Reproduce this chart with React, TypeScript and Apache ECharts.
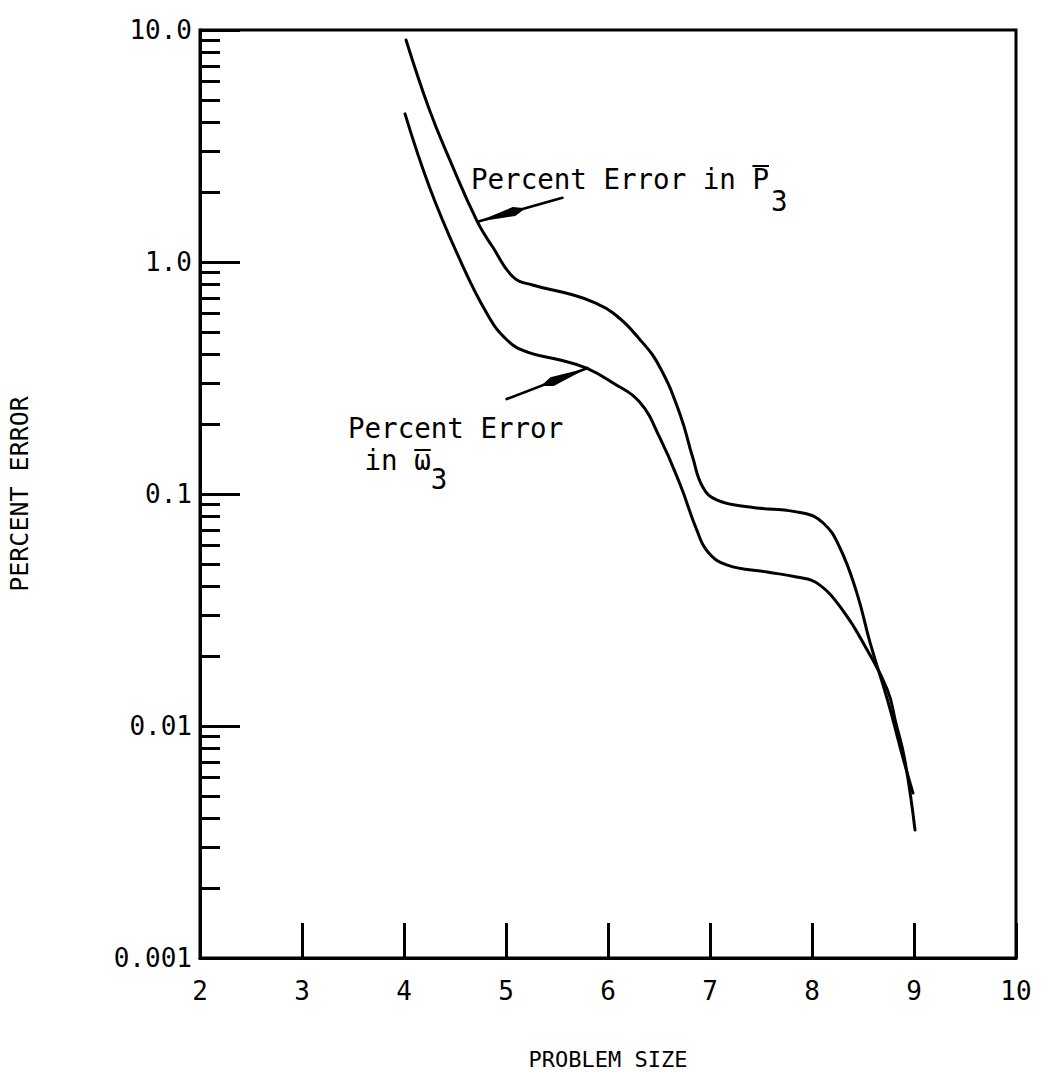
import { useEffect, useRef } from "react";
import * as echarts from "echarts";

// Problem size (x) and percent error (y) along each curve
const p3Size = [4.02, 4.25, 4.45, 4.72, 4.87, 5.07, 5.26, 5.66, 5.85, 6.05, 6.31, 6.51, 6.71, 6.83, 6.93, 7.07, 7.39, 7.91, 8.11, 8.27, 8.44, 8.57, 8.74, 8.89, 8.99];
const p3Error = [9.06, 4.52, 2.75, 1.49, 1.16, 0.862, 0.796, 0.721, 0.673, 0.603, 0.465, 0.351, 0.218, 0.144, 0.107, 0.0941, 0.0879, 0.0828, 0.075, 0.0591, 0.0374, 0.0228, 0.01295, 0.00734, 0.00514];

const w3Size = [4.01, 4.25, 4.52, 4.81, 5.01, 5.21, 5.53, 5.79, 6.05, 6.31, 6.51, 6.71, 6.87, 6.98, 7.17, 7.56, 7.85, 8.05, 8.3, 8.54, 8.74, 8.82, 8.91, 9.01];
const w3Error = [4.35, 2.1, 1.09, 0.603, 0.461, 0.409, 0.378, 0.349, 0.301, 0.249, 0.174, 0.109, 0.07, 0.0562, 0.0494, 0.0461, 0.0439, 0.0413, 0.0316, 0.0213, 0.0143, 0.0104, 0.00713, 0.00356];

// Axis ticks and labels
const xMin = 2;
const xMax = 10;
const yMin = 0.001;
const yMax = 10;
const yDecadeLabels = ["0.001", "0.01", "0.1", "1.0", "10.0"];
const minorDecades = [0.001, 0.01, 0.1, 1];
const minorMantissas = [2, 3, 4, 5, 6, 7, 8, 9];

// Points on the curves that the annotation arrows touch
const p3ArrowTip = [4.72, 1.49];
const w3ArrowTip = [5.8, 0.349];

const mono = '"DejaVu Sans Mono", monospace';

export default function App() {
  const ref = useRef<HTMLDivElement>(null);

  useEffect(() => {
    const chart = echarts.init(ref.current!, undefined, { renderer: "svg" });
    const minorTicks: number[] = [];
    minorDecades.forEach((d) => minorMantissas.forEach((m) => minorTicks.push(+(d * m).toPrecision(3))));

    const lineStyle = { color: "#000", width: 3, cap: "round" as const, join: "round" as const };

    chart.setOption({
      animation: false,
      backgroundColor: "#fff",
      grid: {
        left: 200,
        top: 30,
        width: 816,
        height: 928,
        show: true,
        borderColor: "#000",
        borderWidth: 3,
        backgroundColor: "transparent",
        outerBoundsMode: "none",
      },
      xAxis: {
        type: "value",
        min: xMin,
        max: xMax,
        interval: 1,
        name: "PROBLEM SIZE",
        nameLocation: "middle",
        nameGap: 90,
        nameTextStyle: { fontFamily: mono, fontSize: 22, color: "#000" },
        axisLine: { show: true, lineStyle: { color: "#000", width: 3 } },
        axisTick: { show: true, inside: true, length: 35, lineStyle: { color: "#000", width: 3 } },
        axisLabel: {
          margin: 20,
          fontFamily: mono,
          fontSize: 26,
          color: "#000",
          showMinLabel: true,
          showMaxLabel: true,
          formatter: (v: number) => String(v),
        },
        splitLine: { show: false },
      },
      yAxis: [
        {
          type: "log",
          logBase: 10,
          min: yMin,
          max: yMax,
          position: "left",
          name: "PERCENT ERROR",
          nameLocation: "middle",
          nameRotate: 90,
          nameGap: 168,
          nameTextStyle: { fontFamily: mono, fontSize: 25, color: "#000" },
          axisLine: { show: true, lineStyle: { color: "#000", width: 3 } },
          axisTick: { show: true, inside: true, length: 40, lineStyle: { color: "#000", width: 3 } },
          axisLabel: {
            margin: 8,
            fontFamily: mono,
            fontSize: 26,
            color: "#000",
            showMinLabel: true,
            showMaxLabel: true,
            formatter: (v: number) => yDecadeLabels[Math.round(Math.log10(v)) + 3] ?? "",
          },
          splitLine: { show: false },
        },
        {
          type: "log",
          logBase: 10,
          min: yMin,
          max: yMax,
          position: "left",
          axisLine: { show: false },
          axisTick: {
            show: true,
            inside: true,
            length: 20,
            customValues: minorTicks,
            lineStyle: { color: "#000", width: 3 },
          },
          axisLabel: { show: false },
          splitLine: { show: false },
        },
      ],
      series: [
        {
          name: "Percent Error in P3",
          type: "line",
          smooth: 0.45,
          showSymbol: false,
          yAxisIndex: 0,
          lineStyle,
          data: p3Size.map((x, i) => [x, p3Error[i]]),
        },
        {
          name: "Percent Error in w3",
          type: "line",
          smooth: 0.45,
          showSymbol: false,
          yAxisIndex: 0,
          lineStyle,
          data: w3Size.map((x, i) => [x, w3Error[i]]),
        },
      ],
    });

    // Annotation arrows: a thin shaft with a long, narrow filled head at the tip
    const arrow = (tip: number[], dx: number, dy: number) => {
      const len = Math.hypot(dx, dy);
      const ux = dx / len;
      const uy = dy / len;
      const nx = -uy;
      const ny = ux;
      const headLen = 38;
      const headW = 4.6;
      const bx = tip[0] + ux * headLen;
      const by = tip[1] + uy * headLen;
      return [
        {
          type: "line",
          shape: { x1: tip[0], y1: tip[1], x2: tip[0] + dx, y2: tip[1] + dy },
          style: { stroke: "#000", lineWidth: 2.6, lineCap: "round" },
        },
        {
          type: "polygon",
          shape: {
            points: [
              [tip[0], tip[1]],
              [bx + nx * headW, by + ny * headW],
              [tip[0] + ux * (headLen + 12), tip[1] + uy * (headLen + 12)],
              [bx - nx * headW, by - ny * headW],
            ],
          },
          style: { fill: "#000" },
        },
      ];
    };

    const t1 = chart.convertToPixel({ seriesIndex: 0 }, p3ArrowTip) as number[];
    const t2 = chart.convertToPixel({ seriesIndex: 1 }, w3ArrowTip) as number[];

    const fs = 27.5;
    const cw = fs * 0.602;
    const label = (text: string, x: number, baseline: number) => ({
      type: "text",
      x,
      y: baseline - 9,
      style: { text, font: `${fs}px ${mono}`, fill: "#000", verticalAlign: "middle", align: "left" },
    });
    const bar = (x1: number, x2: number, y: number) => ({
      type: "line",
      shape: { x1, y1: y, x2, y2: y },
      style: { stroke: "#000", lineWidth: 2 },
    });

    const ax = 471;
    const bx0 = 348;

    chart.setOption({
      graphic: [
        ...arrow(t1, 85, -24),
        ...arrow(t2, -81, 31),
        label("Percent Error in P", ax, 188),
        bar(ax + 17 * cw, ax + 18 * cw, 166),
        label("3", ax + 18 * cw + 2, 210),
        label("Percent Error", bx0, 437),
        label("in \u03c9", bx0 + cw, 469),
        bar(bx0 + 4 * cw, bx0 + 5 * cw, 450),
        label("3", bx0 + 5 * cw, 488),
      ],
    });

    return () => chart.dispose();
  }, []);

  return (
    <div
      ref={ref}
      style={{ position: "absolute", left: 0, top: 0, width: 1042, height: 1072, background: "#fff" }}
    />
  );
}
